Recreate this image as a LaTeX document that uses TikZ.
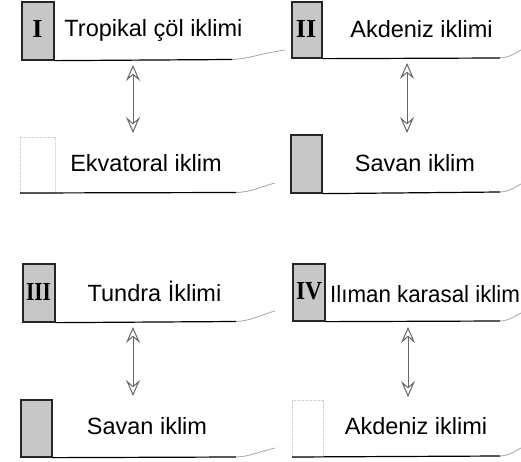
\documentclass[tikz,border=0pt]{standalone}
\usepackage{fontspec}
\setmainfont{Liberation Sans}
\newfontfamily\numfont{Liberation Serif}
\usetikzlibrary{arrows.meta}
\begin{document}
\begin{tikzpicture}[x=1pt,y=-1pt,
  numbox/.style={draw=black!85, line width=1.3pt, fill=black!22, inner sep=0pt},
  faintbox/.style={draw=black!20, densely dotted, line width=0.6pt, inner sep=0pt},
  lbl/.style={font=\fontsize{23.5}{27}\selectfont, inner sep=0pt, anchor=base},
  num/.style={font=\numfont\bfseries\fontsize{26}{28}\selectfont, inner sep=0pt, anchor=base},
  uline/.style={draw=black, line width=1.2pt},
  ufade/.style={draw=black!35, line width=0.8pt},
  dbl/.style={{Stealth[open,length=16pt,width=14pt,inset=6pt]}-{Stealth[open,length=16pt,width=14pt,inset=6pt]}, line width=1pt, draw=black!60}
]
\clip (0,0) rectangle (521,462);
\fill[white] (0,0) rectangle (521,462);

% ---------- Panel I ----------
\node[numbox, minimum width=32pt, minimum height=58pt] (b1) at (38,31) {};
\node[num] (r1) at (37.5,38) {I};
\node[lbl] (t1) at (153.5,37) {Tropikal çöl iklimi};
\coordinate (u1e) at (232,59.5);
\draw[uline] (b1.south east) -- (u1e);
\draw[ufade] (u1e) .. controls (248,59) and (258,54) .. (285,50);
\node[faintbox, minimum width=35pt, minimum height=56pt] (b1b) at (37.5,165) {};
\node[lbl] (t1b) at (146,172) {Ekvatoral iklim};
\coordinate (u1bs) at (20,193);
\coordinate (u1be) at (236,192.5);
\draw[uline] (u1bs) -- (u1be);
\draw[ufade] (u1be) .. controls (252,192) and (260,187) .. (275,183);
\coordinate (a1s) at (133,65);
\coordinate (a1e) at (133,133);
\draw[dbl] (a1s) -- (a1e);

% ---------- Panel II ----------
\node[numbox, minimum width=30pt, minimum height=56pt] (b2) at (307,30) {};
\node[num] (r2) at (306,38) {II};
\node[lbl] (t2) at (421.5,37.5) {Akdeniz iklimi};
\coordinate (u2e) at (500,58);
\draw[uline] (b2.south east) -- (u2e);
\draw[ufade] (u2e) .. controls (510,57.5) and (515,53) .. (521,50);
\node[numbox, minimum width=31pt, minimum height=58pt] (b2b) at (306.5,164) {};
\node[lbl] (t2b) at (415,172) {Savan iklim};
\coordinate (u2be) at (500,192);
\draw[uline] (b2b.south east) -- (u2be);
\draw[ufade] (u2be) .. controls (510,191.5) and (515,187) .. (521,184);
\coordinate (a2s) at (407,63);
\coordinate (a2e) at (407,133);
\draw[dbl] (a2s) -- (a2e);

% ---------- Panel III ----------
\node[numbox, minimum width=32pt, minimum height=58pt] (b3) at (39,293) {};
\node[num, xscale=0.82] (r3) at (38.5,300) {III};
\node[lbl] (t3) at (154.5,301) {Tundra İklimi};
\coordinate (u3e) at (236,321.5);
\draw[uline] (b3.south east) -- (u3e);
\draw[ufade] (u3e) .. controls (250,321) and (258,316) .. (275,311);
\node[numbox, minimum width=31pt, minimum height=57pt] (b3b) at (36.5,428.5) {};
\node[lbl] (t3b) at (147,434) {Savan iklim};
\coordinate (u3be) at (236,457);
\draw[uline] (b3b.south east) -- (u3be);
\draw[ufade] (u3be) .. controls (250,456.5) and (258,452) .. (275,448);
\coordinate (a3s) at (133,327);
\coordinate (a3e) at (133,396);
\draw[dbl] (a3s) -- (a3e);

% ---------- Panel IV ----------
\node[numbox, minimum width=32pt, minimum height=57pt] (b4) at (309,292.5) {};
\node[num, xscale=0.9] (r4) at (309,299) {IV};
\node[lbl, anchor=base west, xscale=0.95] (t4) at (330,302) {Ilıman karasal iklim};
\coordinate (u4e) at (500,321);
\draw[uline] (b4.south east) -- (u4e);
\draw[ufade] (u4e) .. controls (510,320.5) and (515,316) .. (521,313);
\node[faintbox, minimum width=31pt, minimum height=57pt] (b4b) at (307.5,428.5) {};
\node[lbl] (t4b) at (416,434) {Akdeniz iklimi};
\coordinate (u4bs) at (292,457);
\coordinate (u4be) at (500,456);
\draw[uline] (u4bs) -- (u4be);
\draw[ufade] (u4be) .. controls (510,455.5) and (515,451) .. (521,448);
\coordinate (a4s) at (408,327);
\coordinate (a4e) at (408,397);
\draw[dbl] (a4s) -- (a4e);
\end{tikzpicture}
\end{document}
